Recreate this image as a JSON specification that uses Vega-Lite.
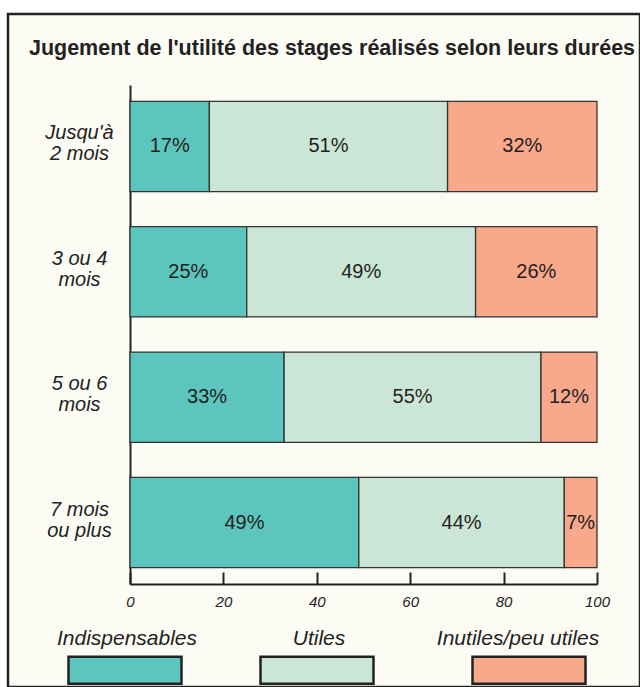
{
  "$schema": "https://vega.github.io/schema/vega-lite/v6.json",
  "autosize": {"type": "fit", "contains": "padding"},
  "width": 640,
  "height": 687,
  "padding": {"left": 8, "top": 14, "right": 0, "bottom": 0},
  "background": "white",
  "config": {
    "view": {"fill": "#fdfcf4", "stroke": "#222222", "strokeWidth": 2.5},
    "font": "Liberation Sans"
  },
  "title": {
    "text": "Jugement de l'utilité des stages réalisés selon leurs durées",
    "fontSize": 21.5,
    "fontWeight": "bold",
    "color": "#222222",
    "offset": -45,
    "dx": 8,
    "anchor": "middle"
  },
  "data": {
    "values": [
      {"duree": "Jusqu'à\n2 mois", "jugement": "Indispensables", "pct": 17, "rang": 1},
      {"duree": "Jusqu'à\n2 mois", "jugement": "Utiles", "pct": 51, "rang": 2},
      {"duree": "Jusqu'à\n2 mois", "jugement": "Inutiles/peu utiles", "pct": 32, "rang": 3},
      {"duree": "3 ou 4\nmois", "jugement": "Indispensables", "pct": 25, "rang": 1},
      {"duree": "3 ou 4\nmois", "jugement": "Utiles", "pct": 49, "rang": 2},
      {"duree": "3 ou 4\nmois", "jugement": "Inutiles/peu utiles", "pct": 26, "rang": 3},
      {"duree": "5 ou 6\nmois", "jugement": "Indispensables", "pct": 33, "rang": 1},
      {"duree": "5 ou 6\nmois", "jugement": "Utiles", "pct": 55, "rang": 2},
      {"duree": "5 ou 6\nmois", "jugement": "Inutiles/peu utiles", "pct": 12, "rang": 3},
      {"duree": "7 mois\nou plus", "jugement": "Indispensables", "pct": 49, "rang": 1},
      {"duree": "7 mois\nou plus", "jugement": "Utiles", "pct": 44, "rang": 2},
      {"duree": "7 mois\nou plus", "jugement": "Inutiles/peu utiles", "pct": 7, "rang": 3}
    ]
  },
  "transform": [{"calculate": "datum.pct + '%'", "as": "etiquette"}],
  "layer": [
    {
      "mark": {"type": "bar", "stroke": "#333333", "strokeWidth": 1.3},
      "encoding": {
        "y": {
          "field": "duree", "type": "nominal", "sort": null,
          "scale": {"range": [71, 570], "paddingInner": 0.28, "paddingOuter": 0.13},
          "axis": {
            "title": null, "orient": "left", "offset": -122,
            "labelExpr": "split(datum.label, '\\n')",
            "labelFontStyle": "italic", "labelFontSize": 20, "labelColor": "#222222",
            "labelAlign": "center", "labelPadding": 51, "labelLineHeight": 21,
            "labelBaseline": "middle", "labelOffset": -13,
            "ticks": false, "domainColor": "#222222", "domainWidth": 2
          }
        },
        "x": {
          "field": "pct", "type": "quantitative", "stack": "zero",
          "scale": {"domain": [0, 100], "range": [122, 589]},
          "axis": {
            "title": null, "orient": "bottom", "offset": -103,
            "values": [0, 20, 40, 60, 80, 100],
            "tickSize": -12, "tickWidth": 2, "tickColor": "#222222",
            "domainColor": "#222222", "domainWidth": 2,
            "labelFontStyle": "italic", "labelFontSize": 15, "labelColor": "#222222",
            "labelPadding": 22, "grid": false, "labelFlush": false
          }
        },
        "color": {
          "field": "jugement", "type": "nominal",
          "sort": ["Indispensables", "Utiles", "Inutiles/peu utiles"],
          "scale": {
            "domain": ["Indispensables", "Utiles", "Inutiles/peu utiles"],
            "range": ["#5cc5bd", "#cbe6d6", "#f8a98c"]
          },
          "legend": {
            "orient": "none", "legendX": 59, "legendY": 598,
            "direction": "horizontal", "title": null,
            "symbolType": "M-1,-0.24H1V0.24H-1Z", "symbolSize": 12769,
            "symbolStrokeColor": "#222222", "symbolStrokeWidth": 2.5, "symbolOpacity": 1,
            "labelFontSize": 21, "labelFontStyle": "italic", "labelColor": "#222222",
            "labelAlign": "center", "labelOffset": -56, "columnPadding": 57, "labelLimit": 300,
            "encoding": {
              "labels": {
                "dy": {"value": -31},
                "dx": {"value": {"expr": "datum.value === 'Inutiles/peu utiles' ? -13 : 0"}}
              }
            }
          }
        },
        "order": {"field": "rang", "type": "quantitative"}
      }
    },
    {
      "mark": {"type": "text", "fontSize": 20, "color": "#231f20"},
      "encoding": {
        "y": {"field": "duree", "type": "nominal", "sort": null},
        "x": {"field": "pct", "type": "quantitative", "stack": "zero", "bandPosition": 0.5},
        "detail": {"field": "jugement"},
        "order": {"field": "rang", "type": "quantitative"},
        "text": {"field": "etiquette"}
      }
    }
  ]
}
